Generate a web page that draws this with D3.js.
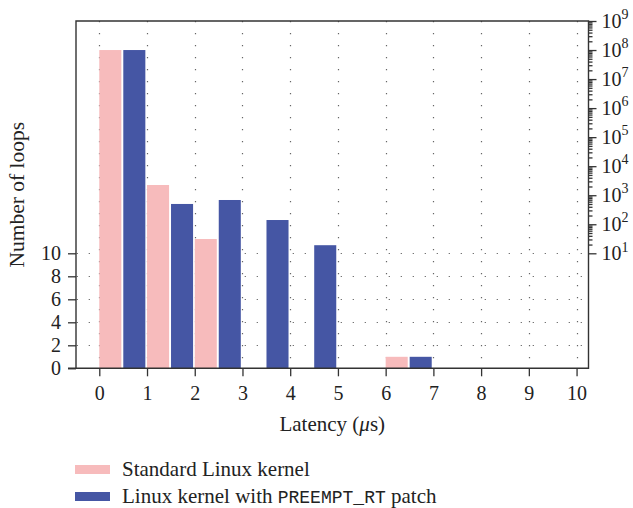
<!DOCTYPE html>
<html><head><meta charset="utf-8">
<script src="https://cdn.jsdelivr.net/npm/d3@7"></script>
<style>body{margin:0;background:#fff}svg{display:block}</style>
</head><body><svg id="c" width="633" height="508"></svg>
<script>
// ---- data ----
const latencyBins = [0, 1, 2, 3, 4, 5, 6, 7, 8, 9];
const standardKernel = [1e8, 2250, 31, 0, 0, 0, 1, 0, 0, 0];
const preemptRtKernel = [1e8, 500, 685, 140, 19, 0, 1, 0, 0, 0];
const xTickValues = [0, 1, 2, 3, 4, 5, 6, 7, 8, 9, 10];
const linearTickValues = [0, 2, 4, 6, 8, 10];
const logTickValues = [1e1, 1e2, 1e3, 1e4, 1e5, 1e6, 1e7, 1e8, 1e9];
const seriesNames = ["Standard Linux kernel", "Linux kernel with PREEMPT_RT patch"];
const seriesColors = ["#F7BBBC", "#4556A4"];

// ---- layout ----
const L = 76, R = 588.5, T = 21, B = 368.3, SPLIT = 253.3;
const FONT = "'Liberation Serif', 'DejaVu Serif', serif";
const axisColor = "#333";

const svg = d3.select("#c");
const x = d3.scaleLinear().domain([-0.488, 10.25]).range([L, R]);
const yLin = d3.scaleLinear().domain([0, 10]).range([B, SPLIT]);
const yLog = d3.scaleLog().domain([10, 1e9]).range([SPLIT, T]);
const y = v => (v <= 10 ? yLin(v) : yLog(v));

// ---- grid ----
const grid = svg.append("g").attr("stroke", "#666").attr("stroke-width", 1.2);
grid.selectAll("line.v").data(xTickValues).join("line")
  .attr("x1", d => Math.round(x(d)) + 0.5).attr("x2", d => Math.round(x(d)) + 0.5)
  .attr("y1", T).attr("y2", B)
  .attr("stroke-dasharray", "1.2 10.8");
grid.selectAll("line.h").data(linearTickValues.filter(d => d > 0)).join("line")
  .attr("x1", L).attr("x2", R)
  .attr("y1", d => Math.round(yLin(d)) + 0.5).attr("y2", d => Math.round(yLin(d)) + 0.5)
  .attr("stroke-dasharray", "1.2 10.8").attr("stroke-dashoffset", 11.3);

// ---- bars ----
const series = [standardKernel, preemptRtKernel];
const offsets = [0.0, 0.503], barW = 0.462;
series.forEach((vals, si) => {
  svg.append("g").selectAll("rect")
    .data(latencyBins.map((b, i) => ({ b, v: vals[i] })).filter(d => d.v > 0))
    .join("rect")
    .attr("x", d => x(d.b + offsets[si]))
    .attr("width", d => x(d.b + offsets[si] + barW) - x(d.b + offsets[si]))
    .attr("y", d => y(d.v))
    .attr("height", d => B - y(d.v))
    .attr("fill", seriesColors[si]);
});

// ---- axes ----
function styleAxis(g) {
  g.select(".domain").remove();
  g.selectAll(".tick line").attr("stroke", axisColor).attr("stroke-width", 1.3);
  g.selectAll("text").attr("font-family", FONT).attr("fill", "#222");
}
const xAxis = svg.append("g").attr("transform", `translate(0,${B})`)
  .call(d3.axisBottom(x).tickValues(xTickValues).tickSize(8).tickPadding(9.5).tickFormat(d3.format("d")));
styleAxis(xAxis);
xAxis.selectAll("text").attr("font-size", 20);

const yAxisL = svg.append("g").attr("transform", `translate(${L},0)`)
  .call(d3.axisLeft(yLin).tickValues(linearTickValues).tickSize(8).tickPadding(7));
styleAxis(yAxisL);
yAxisL.selectAll("text").attr("font-size", 20);

const minorTicks = yLog.ticks().filter(v => !logTickValues.includes(v));
const yAxisRMinor = svg.append("g").attr("transform", `translate(${R},0)`)
  .call(d3.axisRight(yLog).tickValues(minorTicks).tickSize(4).tickFormat(""));
styleAxis(yAxisRMinor);
const yAxisR = svg.append("g").attr("transform", `translate(${R},0)`)
  .call(d3.axisRight(yLog).tickValues(logTickValues).tickSize(8).tickPadding(5).tickFormat(""));
styleAxis(yAxisR);
yAxisR.selectAll("text").attr("font-size", 20).each(function (d) {
  const t = d3.select(this);
  t.append("tspan").text("10");
  t.append("tspan").attr("font-size", 14).attr("dy", "-0.62em").text(Math.round(Math.log10(d)));
});

// ---- frame ----
svg.append("path")
  .attr("d", `M${L - 8},${B}H${R}V${T}H${L}V${B}`)
  .attr("fill", "none").attr("stroke", axisColor).attr("stroke-width", 1.4);

// ---- axis titles ----
const xt = svg.append("text").attr("x", (L + R) / 2).attr("y", 431)
  .attr("text-anchor", "middle").attr("font-family", FONT).attr("font-size", 21).attr("fill", "#222");
xt.append("tspan").text("Latency (");
xt.append("tspan").attr("font-style", "italic").text("\u03bc");
xt.append("tspan").text("s)");

svg.append("text").attr("transform", `translate(24,${(T + B) / 2}) rotate(-90)`)
  .attr("text-anchor", "middle").attr("font-family", FONT).attr("font-size", 21.5).attr("fill", "#222")
  .text("Number of loops");

// ---- legend ----
const lg = svg.append("g");
seriesNames.forEach((name, i) => {
  const yy = 465 + i * 27;
  lg.append("rect").attr("x", 75).attr("y", yy).attr("width", 35).attr("height", 9).attr("fill", seriesColors[i]);
  const t = lg.append("text").attr("x", 122).attr("y", yy + 10.5)
    .attr("font-family", FONT).attr("font-size", 21).attr("fill", "#222");
  const m = name.match(/^(.*?)(PREEMPT_RT)(.*)$/);
  if (m) {
    t.append("tspan").text(m[1]);
    t.append("tspan").attr("font-family", "'Liberation Mono', 'DejaVu Sans Mono', monospace").attr("font-size", 18).text(m[2]);
    t.append("tspan").text(m[3]);
  } else t.text(name);
});
</script></body></html>
